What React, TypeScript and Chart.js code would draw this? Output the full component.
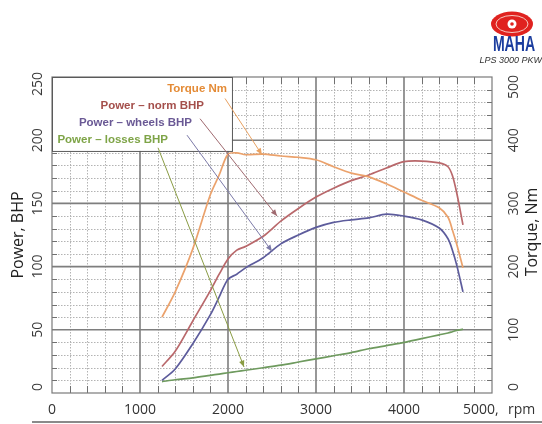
import React, { useEffect, useRef } from 'react';
import { Chart, registerables } from 'chart.js';

Chart.register(...registerables);

// ---- data ----
const rpm = [1250, 1400, 1600, 1800, 1900, 2000, 2100, 2200, 2400, 2600, 2800, 3000, 3200, 3400, 3600, 3800, 4000, 4200, 4400, 4500, 4550, 4600, 4670];
const torqueNm = [120, 160, 228, 314, 345, 378, 380, 377, 378, 375, 373, 369, 358, 348, 342, 331, 318, 305, 293, 278, 258, 235, 198];
const powerNorm = [21, 33, 57, 81, 94, 106, 113, 116, 124, 136, 146, 155, 162, 168, 172.5, 178, 183, 183.5, 182, 179, 172, 158, 133];
const powerWheels = [10, 19, 39, 62, 76, 90, 94, 99, 107, 118, 125, 131, 135, 137, 138.5, 141.5, 140, 137, 130.5, 122, 113, 101, 80];
const powerLosses = [9, 10.5, 12, 14, 15, 16, 17, 18, 20, 22, 24.5, 27, 29.5, 32, 35, 37.5, 40, 43, 46, 47.5, 48.5, 49.5, 50.5];

const xTickLabels = [0, 1000, 2000, 3000, 4000];
const leftTicks = [0, 50, 100, 150, 200, 250];
const rightTicks = [0, 100, 200, 300, 400, 500];

const seriesNames = ['Torque Nm', 'Power – norm BHP', 'Power – wheels BHP', 'Power – losses BHP'];
const lineColors = ['#eba26c', '#b9686b', '#5d5c9c', '#6e9a5e'];
const textColors = ['#e48b36', '#a44f4b', '#6a5995', '#7ea447'];
const arrowColors = ['#e9a262', '#a06a70', '#7c7aa8', '#8a9c44'];

// annotation arrows (rpm, BHP) : from label to curve
const arrowFrom = [[1966, 233], [1682, 217], [1534, 204], [1205, 194]];
const arrowTo = [[2386, 188.5], [2557, 140], [2500, 112], [2182, 20.6]];

const pts = (vals: number[]) => rpm.map((r, i) => ({ x: r, y: vals[i] }));

function drawArrow(ctx: CanvasRenderingContext2D, x1: number, y1: number, x2: number, y2: number, color: string) {
  ctx.save();
  ctx.strokeStyle = color;
  ctx.fillStyle = color;
  ctx.lineWidth = 1;
  ctx.beginPath();
  ctx.moveTo(x1, y1);
  ctx.lineTo(x2, y2);
  ctx.stroke();
  const a = Math.atan2(y2 - y1, x2 - x1);
  const s = 7;
  ctx.beginPath();
  ctx.moveTo(x2, y2);
  ctx.lineTo(x2 - s * Math.cos(a - 0.4), y2 - s * Math.sin(a - 0.4));
  ctx.lineTo(x2 - s * Math.cos(a + 0.4), y2 - s * Math.sin(a + 0.4));
  ctx.closePath();
  ctx.fill();
  ctx.restore();
}

const dynoPlugin = {
  id: 'dyno',
  beforeDraw(chart: any) {
    const ctx = chart.ctx;
    ctx.save();
    ctx.fillStyle = '#ffffff';
    ctx.fillRect(0, 0, chart.width, chart.height);
    ctx.restore();
  },
  beforeDatasetsDraw(chart: any) {
    const ctx: CanvasRenderingContext2D = chart.ctx;
    const { left, right, top, bottom } = chart.chartArea;
    const xs = chart.scales.x;
    const ys = chart.scales.y;
    const line = (a: number, b: number, c: number, d: number) => {
      ctx.beginPath();
      ctx.moveTo(a, b);
      ctx.lineTo(c, d);
      ctx.stroke();
    };
    ctx.save();
    // minor dotted grid
    ctx.strokeStyle = '#b3b3b3';
    ctx.lineWidth = 1;
    ctx.setLineDash([1.5, 1.5]);
    for (let v = 200; v < 5000; v += 200) {
      if (v % 1000 === 0) continue;
      const x = Math.round(xs.getPixelForValue(v)) + 0.5;
      line(x, top, x, bottom);
    }
    for (let v = 10; v < 250; v += 10) {
      if (v % 50 === 0) continue;
      const y = Math.round(ys.getPixelForValue(v)) + 0.5;
      line(left, y, right, y);
    }
    ctx.setLineDash([]);
    // edge ticks
    ctx.strokeStyle = '#707070';
    for (let v = 200; v < 5000; v += 200) {
      if (v % 1000 === 0) continue;
      const x = Math.round(xs.getPixelForValue(v)) + 0.5;
      line(x, top, x, top + 7);
      line(x, bottom - 7, x, bottom);
    }
    for (let v = 10; v < 250; v += 10) {
      if (v % 50 === 0) continue;
      const y = Math.round(ys.getPixelForValue(v)) + 0.5;
      line(left, y, left + 5, y);
      line(right - 5, y, right, y);
    }
    // major grid
    ctx.strokeStyle = '#7e7e7e';
    ctx.lineWidth = 1.6;
    for (let v = 1000; v < 5000; v += 1000) {
      const x = xs.getPixelForValue(v);
      line(x, top, x, bottom);
    }
    for (let v = 50; v < 250; v += 50) {
      const y = ys.getPixelForValue(v);
      line(left, y, right, y);
    }
    // frame
    ctx.strokeStyle = '#7a7a7a';
    ctx.lineWidth = 1.2;
    ctx.strokeRect(left, top, right - left, bottom - top);
    ctx.restore();
  },
  afterDatasetsDraw(chart: any) {
    const ctx: CanvasRenderingContext2D = chart.ctx;
    const { left, right, top, bottom } = chart.chartArea;
    const xs = chart.scales.x;
    const ys = chart.scales.y;
    const y1s = chart.scales.y1;
    ctx.save();

    // legend box
    const bx1 = xs.getPixelForValue(0);
    const bx2 = xs.getPixelForValue(2045);
    const by1 = ys.getPixelForValue(250);
    const by2 = ys.getPixelForValue(191.5);
    ctx.fillStyle = '#ffffff';
    ctx.fillRect(bx1, by1, bx2 - bx1, by2 - by1);
    ctx.strokeStyle = '#5a5a5a';
    ctx.lineWidth = 1;
    ctx.strokeRect(bx1 + 0.5, by1 + 0.5, bx2 - bx1, by2 - by1);

    // arrows
    for (let i = 0; i < arrowFrom.length; i++) {
      drawArrow(
        ctx,
        xs.getPixelForValue(arrowFrom[i][0]), ys.getPixelForValue(arrowFrom[i][1]),
        xs.getPixelForValue(arrowTo[i][0]), ys.getPixelForValue(arrowTo[i][1]),
        arrowColors[i]
      );
    }

    // legend texts
    ctx.font = 'bold 11.5px "Liberation Sans", Arial, sans-serif';
    ctx.textBaseline = 'middle';
    ctx.textAlign = 'right';
    const ends = [227, 204, 192, 168];
    const rows = [89, 106, 123, 140];
    for (let i = 0; i < seriesNames.length; i++) {
      ctx.fillStyle = textColors[i];
      ctx.fillText(seriesNames[i], left + (ends[i] - 52), top + (rows[i] - 77));
    }

    // y tick labels (rotated)
    ctx.fillStyle = '#3a3a3a';
    ctx.font = '14px "Open Sans", sans-serif';
    ctx.textAlign = 'center';
    ctx.textBaseline = 'middle';
    leftTicks.forEach((v) => {
      let y = ys.getPixelForValue(v);
      if (v === 0) y -= 6;
      if (v === 250) y += 7;
      ctx.save();
      ctx.translate(left - 14, y);
      ctx.rotate(-Math.PI / 2);
      ctx.fillText(String(v), 0, 0);
      ctx.restore();
    });
    rightTicks.forEach((v) => {
      let y = y1s.getPixelForValue(v);
      if (v === 0) y -= 6;
      if (v === 500) y += 10;
      ctx.save();
      ctx.translate(right + 22, y);
      ctx.rotate(-Math.PI / 2);
      ctx.fillText(String(v), 0, 0);
      ctx.restore();
    });

    // axis titles
    ctx.fillStyle = '#222';
    ctx.font = '16px "Open Sans", sans-serif';
    ctx.save();
    ctx.translate(18, (top + bottom) / 2);
    ctx.rotate(-Math.PI / 2);
    ctx.fillText('Power, BHP', 0, 0);
    ctx.restore();
    ctx.save();
    ctx.translate(right + 40, (top + bottom) / 2 - 3);
    ctx.rotate(-Math.PI / 2);
    ctx.fillText('Torque, Nm', 0, 0);
    ctx.restore();

    // 5000, rpm
    ctx.fillStyle = '#333';
    ctx.font = '14px "Open Sans", sans-serif';
    ctx.textAlign = 'left';
    const x5 = xs.getPixelForValue(5000);
    ctx.fillText('5000,', x5 - 29, bottom + 17);
    ctx.fillText('rpm', x5 + 16, bottom + 17);

    // bottom rule
    ctx.strokeStyle = '#8a8a8a';
    ctx.lineWidth = 2;
    ctx.beginPath();
    ctx.moveTo(32, chart.height - 2);
    ctx.lineTo(chart.width, chart.height - 2);
    ctx.stroke();

    // logo
    const cx = 512, cy = 24;
    ctx.fillStyle = '#e0221f';
    ctx.beginPath();
    ctx.ellipse(cx, cy, 21, 12.5, 0, 0, Math.PI * 2);
    ctx.fill();
    ctx.strokeStyle = '#f6c9c0';
    ctx.lineWidth = 1;
    ctx.beginPath();
    ctx.ellipse(cx, cy, 16, 8.5, 0, 0, Math.PI * 2);
    ctx.stroke();
    ctx.fillStyle = '#ffffff';
    ctx.beginPath();
    ctx.arc(cx, cy, 4.5, 0, Math.PI * 2);
    ctx.fill();
    ctx.fillStyle = '#e0221f';
    ctx.beginPath();
    ctx.arc(cx, cy, 1.8, 0, Math.PI * 2);
    ctx.fill();
    ctx.save();
    ctx.translate(514, 45);
    ctx.scale(0.64, 1);
    ctx.fillStyle = '#1b3d9e';
    ctx.font = 'bold 22px "Liberation Sans", Arial, sans-serif';
    ctx.textAlign = 'center';
    ctx.textBaseline = 'middle';
    ctx.fillText('MAHA', 0, 0);
    ctx.restore();
    ctx.fillStyle = '#333';
    ctx.font = 'italic 9px "Liberation Sans", Arial, sans-serif';
    ctx.textAlign = 'right';
    ctx.textBaseline = 'middle';
    ctx.fillText('LPS 3000 PKW', 542, 60);

    ctx.restore();
  },
};

export default function App() {
  const ref = useRef<HTMLCanvasElement>(null);
  useEffect(() => {
    const canvas = ref.current!;
    const mk = (label: string, vals: number[], color: string, axis: string) => ({
      label,
      data: pts(vals),
      borderColor: color,
      backgroundColor: color,
      borderWidth: 1.7,
      pointRadius: 0,
      tension: 0.3,
      yAxisID: axis,
      fill: false,
    });
    const chart = new Chart(canvas, {
      type: 'line',
      data: {
        datasets: [
          mk(seriesNames[0], torqueNm, lineColors[0], 'y1'),
          mk(seriesNames[1], powerNorm, lineColors[1], 'y'),
          mk(seriesNames[2], powerWheels, lineColors[2], 'y'),
          mk(seriesNames[3], powerLosses, lineColors[3], 'y'),
        ],
      },
      options: {
        animation: false,
        responsive: false,
        devicePixelRatio: 1,
        layout: { padding: { top: 77, left: 0, right: 0, bottom: 0 } },
        plugins: { legend: { display: false }, tooltip: { enabled: false } },
        scales: {
          x: {
            type: 'linear',
            min: 0,
            max: 5000,
            afterBuildTicks: (s: any) => {
              s.ticks = xTickLabels.map((v) => ({ value: v }));
            },
            ticks: {
              autoSkip: false,
              maxRotation: 0,
              padding: 9,
              color: '#333',
              font: { family: '"Open Sans", sans-serif', size: 14 },
              callback: (v: any) => String(v),
            },
            grid: { display: false, drawTicks: false },
            border: { display: false },
            afterFit: (s: any) => {
              s.height = 31;
            },
          },
          y: {
            type: 'linear',
            position: 'left',
            min: 0,
            max: 250,
            ticks: { display: false },
            grid: { display: false },
            border: { display: false },
            afterFit: (s: any) => {
              s.width = 52;
            },
          },
          y1: {
            type: 'linear',
            position: 'right',
            min: 0,
            max: 500,
            ticks: { display: false },
            grid: { display: false },
            border: { display: false },
            afterFit: (s: any) => {
              s.width = 50;
            },
          },
        },
      },
      plugins: [dynoPlugin],
    } as any);
    return () => chart.destroy();
  }, []);
  return (
    <div style={{ position: 'fixed', left: 0, top: 0, width: 542, height: 424, background: '#fff' }}>
      <canvas ref={ref} width={542} height={424} style={{ width: 542, height: 424, display: 'block' }} />
    </div>
  );
}
